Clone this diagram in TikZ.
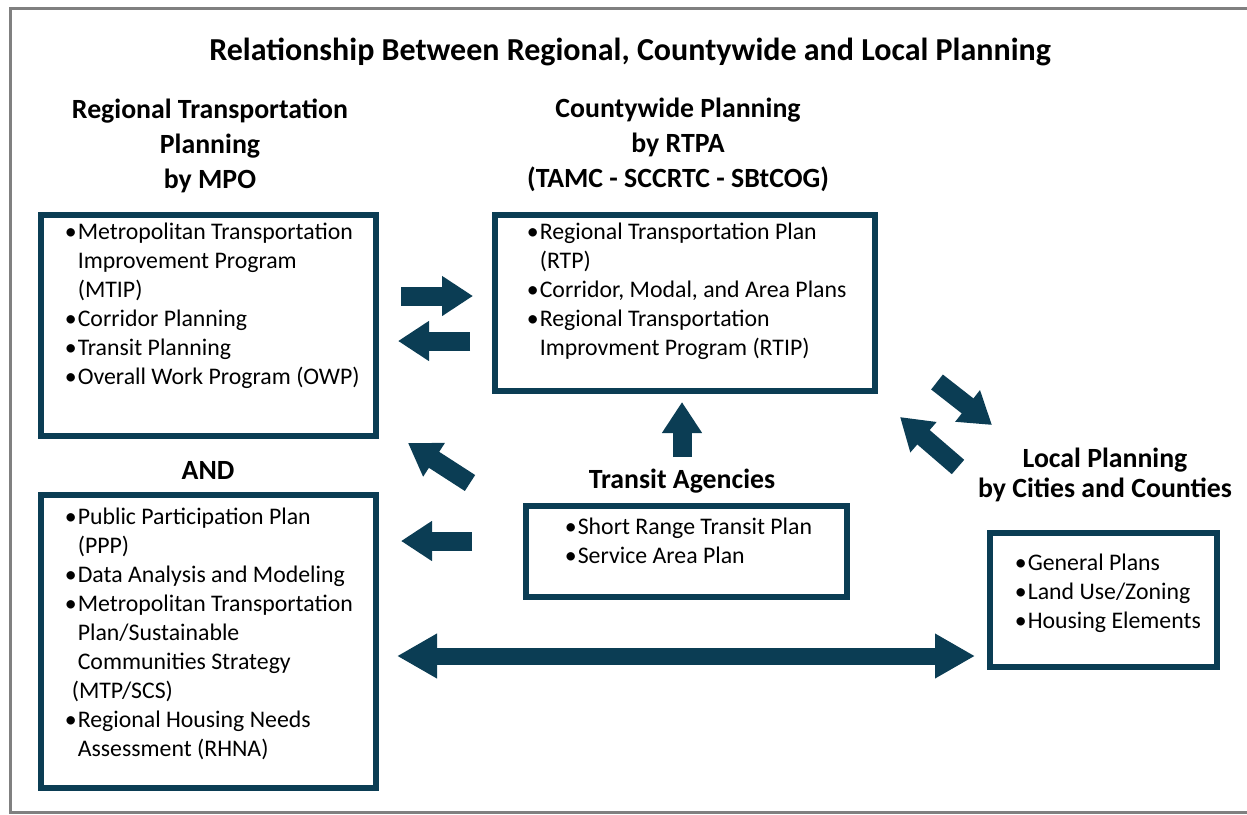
\documentclass[tikz,border=0pt]{standalone}
\usepackage{fontspec}
\setmainfont{Carlito}
\usetikzlibrary{arrows.meta,positioning,fit}

\definecolor{planteal}{RGB}{11,61,84}
\newcommand{\bu}{\makebox[6.5pt][l]{\textbullet}}
\newcommand{\ind}{\hspace*{6.5pt}}

\begin{document}
\begin{tikzpicture}[x=0.5pt, y=-0.5pt,
  head/.style={font=\fontsize{13.9}{17.5}\selectfont\bfseries, align=center, inner sep=0pt},
  planbox/.style={draw=planteal, line width=2.6pt, inner sep=0pt},
  items/.style={font=\fontsize{11.9}{14.5}\selectfont, align=left, inner sep=0pt, anchor=north west},
  fat/.style={draw=planteal, line width=9.5pt, -{Triangle[length=15.5pt, width=19pt]}},
  fatboth/.style={draw=planteal, line width=8.5pt, {Triangle[length=20pt, width=21pt]}-{Triangle[length=20pt, width=21pt]}}]

\useasboundingbox (0,0) rectangle (1247,814);
\draw[gray, line width=1.5pt] (1247,8) -- (10,8) -- (10,812) -- (1247,812);

\node[head, font=\fontsize{16}{19}\selectfont\bfseries] (title) at (630,52) {Relationship Between Regional, Countywide and Local Planning};

\node[head] (mpohead) at (210,146) {Regional Transportation\\Planning\\by MPO};
\node[planbox, fit={(41,215) (376,436)}] (mpobox) {};
\node[items] (mpoitems) at ([shift={(26,10)}]mpobox.north west)
  {\bu Metropolitan Transportation\\
   \ind Improvement Program\\
   \ind (MTIP)\\
   \bu Corridor Planning\\
   \bu Transit Planning\\
   \bu Overall Work Program (OWP)};

\node[head] (andhead) at (208,470) {AND};
\node[planbox, fit={(41,495) (376,788)}] (mpobox2) {};
\node[items] (mpoitems2) at ([shift={(26,15)}]mpobox2.north west)
  {\bu Public Participation Plan\\
   \ind (PPP)\\
   \bu Data Analysis and Modeling\\
   \bu Metropolitan Transportation\\
   \ind Plan/Sustainable\\
   \ind Communities Strategy\\
   \hspace*{3.5pt}(MTP/SCS)\\
   \bu Regional Housing Needs\\
   \ind Assessment (RHNA)};

\node[head] (rtpahead) at (678,145) {Countywide Planning\\by RTPA\\(TAMC - SCCRTC - SBtCOG)};
\node[planbox, fit={(495,215) (875,391)}] (rtpabox) {};
\node[items] (rtpaitems) at ([shift={(34,10)}]rtpabox.north west)
  {\bu Regional Transportation Plan\\
   \ind (RTP)\\
   \bu Corridor, Modal, and Area Plans\\
   \bu Regional Transportation\\
   \ind Improvment Program (RTIP)};

\node[head] (transithead) at (682,481) {Transit Agencies};
\node[planbox, fit={(526,506) (847,597)}] (transitbox) {};
\node[items] (transititems) at ([shift={(41,14)}]transitbox.north west)
  {\bu Short Range Transit Plan\\
   \bu Service Area Plan};

\node[head, font=\fontsize{13.9}{15}\selectfont\bfseries] (localhead) at (1105,475) {Local Planning\\by Cities and Counties};
\node[planbox, fit={(990,533) (1217,667)}] (localbox) {};
\node[items] (localitems) at ([shift={(27,23)}]localbox.north west)
  {\bu General Plans\\
   \bu Land Use/Zoning\\
   \bu Housing Elements};

\coordinate (mr1) at (401,296);  \coordinate (mr2) at (473,296);
\coordinate (rm1) at (470,341);  \coordinate (rm2) at (398,341);
\coordinate (tr1) at (682,457);  \coordinate (tr2) at (682,402);
\coordinate (rl1) at (937,382);  \coordinate (rl2) at (992,425);
\coordinate (lr1) at (958,467);  \coordinate (lr2) at (900,417);
\coordinate (tm1) at (470,483);  \coordinate (tm2) at (408,443);
\coordinate (tn1) at (472,541);  \coordinate (tn2) at (401,541);
\coordinate (ml1) at (397,656);  \coordinate (ml2) at (975,656);

\foreach \s/\t in {mr1/mr2, rm1/rm2, tr1/tr2, rl1/rl2, lr1/lr2, tm1/tm2, tn1/tn2}
  \draw[fat] (\s) -- (\t);
\draw[fatboth] (ml1) -- (ml2);
\end{tikzpicture}
\end{document}
